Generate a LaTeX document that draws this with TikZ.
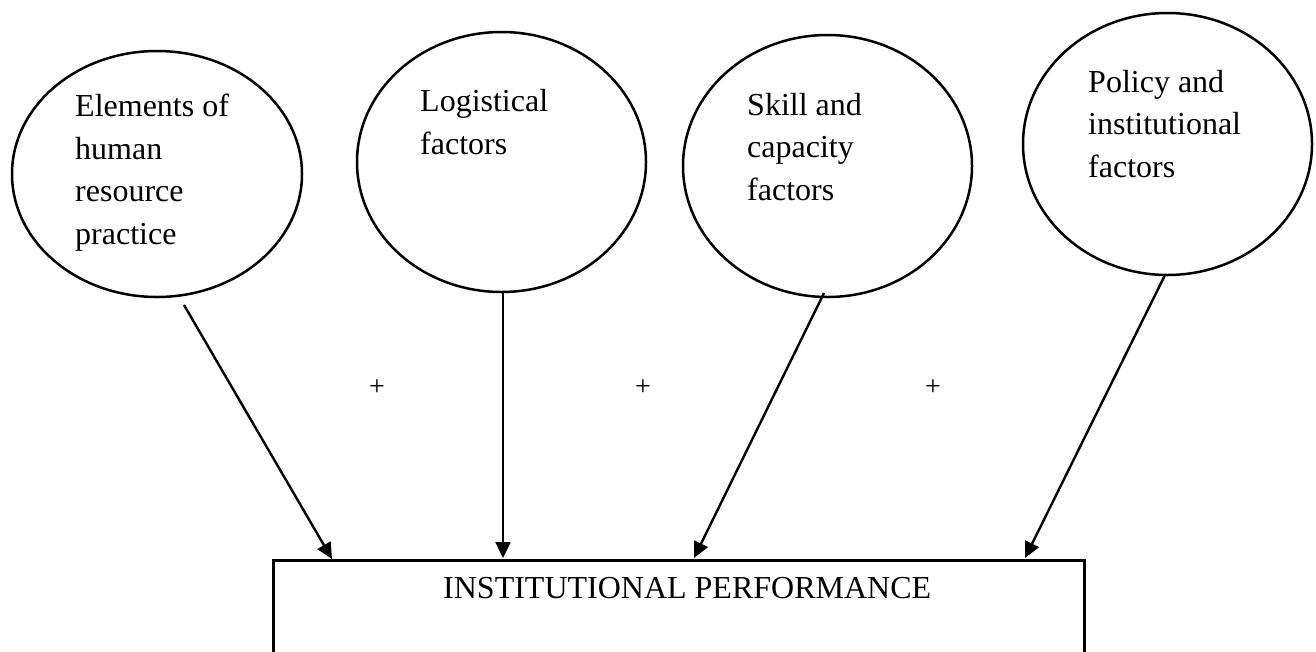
\documentclass[tikz,border=0pt]{standalone}
\usepackage{fontspec}
\setmainfont{Liberation Serif}
\usetikzlibrary{arrows.meta,shapes.geometric}
\tikzset{
  bubble/.style={draw, line width=2.5pt, ellipse, inner sep=0pt},
  label text/.style={anchor=base west, inner sep=0pt, align=left, font=\fontsize{32}{42.5}\selectfont},
  arr/.style={line width=2.4pt, -{Triangle[length=16pt,width=15pt]}},
  plus/.style={inner sep=0pt, font=\fontsize{28}{28}\selectfont},
  box/.style={draw, line width=2.5pt, rectangle, inner sep=0pt, anchor=north west}
}
\begin{document}
\begin{tikzpicture}[x=1pt,y=-1pt]
\useasboundingbox (0,0) rectangle (1316,651);
\clip (0,0) rectangle (1316,651);
% ellipses
\node[bubble, minimum width=290pt, minimum height=246pt] (e1) at (157,174) {};
\node[bubble, minimum width=289pt, minimum height=260pt] (e2) at (501.5,162) {};
\node[bubble, minimum width=289pt, minimum height=262pt] (e3) at (827.5,166) {};
\node[bubble, minimum width=289pt, minimum height=262pt] (e4) at (1167.5,144) {};
% texts (anchored at the baseline of the last line)
\node[label text] (l1) at (75,244) {Elements of\\human\\resource\\practice};
\node[label text] (l2) at (420,154) {Logistical\\factors};
\node[label text] (l3) at (747,200) {Skill and\\capacity\\factors};
\node[label text] (l4) at (1088,177) {Policy and\\institutional\\factors};
% box
\node[box, minimum width=811pt, minimum height=140pt] (perf) at (272,559) {};
\node[anchor=base west, inner sep=0pt, font=\fontsize{32}{38}\selectfont] (ptext) at (443,598) {INSTITUTIONAL PERFORMANCE};
% plus signs
\node[plus] (p1) at (377,388) {+};
\node[plus] (p2) at (643,388) {+};
\node[plus] (p3) at (933,388) {+};
% arrow endpoints
\coordinate (s1) at (184,305);
\coordinate (t1) at (332,559);
\coordinate (s2) at (503,293);
\coordinate (t2) at (503,558);
\coordinate (s3) at (824,293);
\coordinate (t3) at (694,558);
\coordinate (s4) at (1165,275);
\coordinate (t4) at (1025,558);
\draw[arr] (s1) -- (t1);
\draw[arr] (s2) -- (t2);
\draw[arr] (s3) -- (t3);
\draw[arr] (s4) -- (t4);
\end{tikzpicture}
\end{document}
